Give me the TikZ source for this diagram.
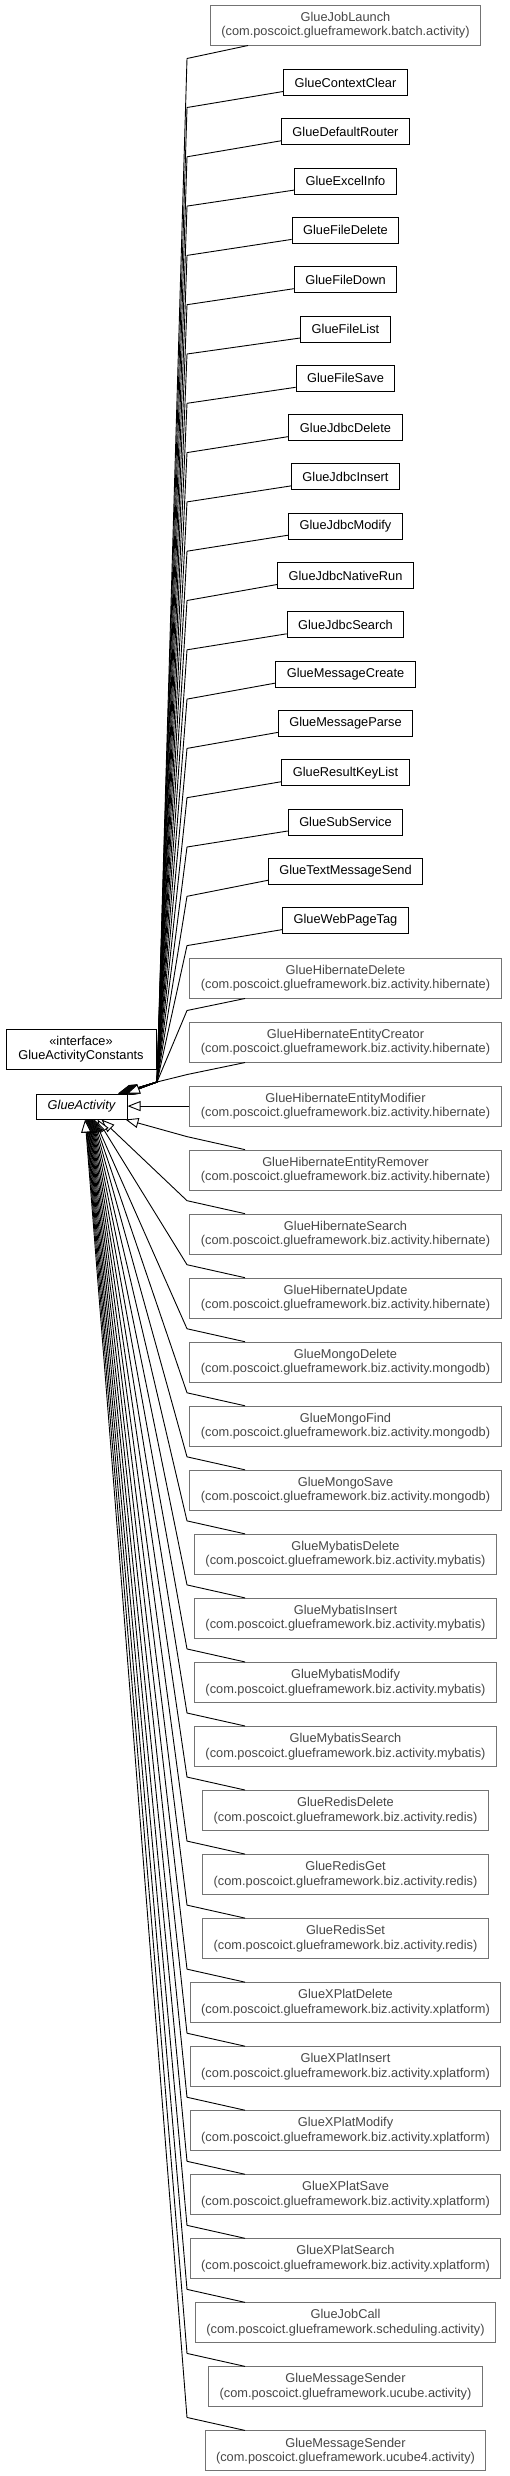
\documentclass[tikz,border=0pt]{standalone}
\usepackage{fontspec}
\setmainfont{Liberation Sans}
\usetikzlibrary{arrows.meta,calc}
\begin{document}
\begin{tikzpicture}[x=1pt,y=-1pt,
  cls/.style={draw=black, line width=1pt, font=\fontsize{12.8}{14.5}\selectfont, inner xsep=11pt, inner ysep=0pt, minimum height=26pt, fill=white},
  ext/.style={cls, draw=black!55, text=black!72, align=center, minimum height=40pt},
  gen/.style={line width=0.9pt, line join=round, -{Triangle[length=13pt,width=10pt,fill=white]}}]
\useasboundingbox (0,0) rectangle (509,2476);
\coordinate (lx) at (245,0);
\coordinate (bx) at (187,0);
\coordinate (conv) at (157,1082);

% base classes
\node[cls, minimum width=150pt, minimum height=40pt, align=center] (gac) at (81,1049) {«interface»\\GlueActivityConstants};
\node[cls, minimum width=91pt, minimum height=25pt, font=\fontsize{12.8}{14.5}\selectfont\itshape] (ga) at (81.5,1106.5) {GlueActivity};

% top external class
\node[ext] (jl) at (345.5,25) {GlueJobLaunch\\(com.poscoict.glueframework.batch.activity)};

% simple classes
\foreach \n [count=\k from 0] in {ContextClear,DefaultRouter,ExcelInfo,FileDelete,FileDown,FileList,FileSave,JdbcDelete,JdbcInsert,JdbcModify,JdbcNativeRun,JdbcSearch,MessageCreate,MessageParse,ResultKeyList,SubService,TextMessageSend,WebPageTag}{
  \node[cls] (s\k) at (345.5,{82.5+49.3*\k}) {Glue\n};
}

% two-line classes
\foreach \n/\p [count=\i from 0] in {
  GlueHibernateDelete/biz.activity.hibernate,
  GlueHibernateEntityCreator/biz.activity.hibernate,
  GlueHibernateEntityModifier/biz.activity.hibernate,
  GlueHibernateEntityRemover/biz.activity.hibernate,
  GlueHibernateSearch/biz.activity.hibernate,
  GlueHibernateUpdate/biz.activity.hibernate,
  GlueMongoDelete/biz.activity.mongodb,
  GlueMongoFind/biz.activity.mongodb,
  GlueMongoSave/biz.activity.mongodb,
  GlueMybatisDelete/biz.activity.mybatis,
  GlueMybatisInsert/biz.activity.mybatis,
  GlueMybatisModify/biz.activity.mybatis,
  GlueMybatisSearch/biz.activity.mybatis,
  GlueRedisDelete/biz.activity.redis,
  GlueRedisGet/biz.activity.redis,
  GlueRedisSet/biz.activity.redis,
  GlueXPlatDelete/biz.activity.xplatform,
  GlueXPlatInsert/biz.activity.xplatform,
  GlueXPlatModify/biz.activity.xplatform,
  GlueXPlatSave/biz.activity.xplatform,
  GlueXPlatSearch/biz.activity.xplatform,
  GlueJobCall/scheduling.activity,
  GlueMessageSender/ucube.activity,
  GlueMessageSender/ucube4.activity}{
  \node[ext] (t\i) at (345.5,{978+64.04*\i}) {\n\\(com.poscoict.glueframework.\p)};
}

% upper generalizations
\draw[gen] ($(lx |- jl.south)+(3,0)$) -- ($(bx |- jl.south)+(0,13)$) -- (conv) -- ($(ga.north east)+(-9.5,0)$);
\foreach \k in {0,...,17}{
  \pgfmathsetmacro\ex{-9.5+0.45*(\k+1)}
  \draw[gen] ($(s\k.west)+(0,9)$) -- ($(bx |- s\k.west)+(0,25)$) -- (conv) -- ($(ga.north east)+(\ex,0)$);
}
\foreach \i in {0,1}{
  \pgfmathsetmacro\ex{-1.0+0.45*\i}
  \draw[gen] (lx |- t\i.south) -- ($(bx |- t\i.south)+(0,12)$) -- (conv) -- ($(ga.north east)+(\ex,0)$);
}
% horizontal
\draw[gen] (t2.west) -- (t2.west -| ga.east);
% lower generalizations
\draw[gen] (lx |- t3.north) -- ($(bx |- t3.north)+(0,-13)$) -- ($(ga.south east)+(-2,0)$);
\draw[gen] (lx |- t4.north) -- ($(bx |- t4.north)+(0,-13)$) -- ($(ga.south west)+(66,0)$);
\draw[gen] (lx |- t5.north) -- ($(bx |- t5.north)+(0,-13)$) -- ($(ga.south west)+(62,0)$);
\foreach \i in {6,...,23}{
  \pgfmathsetmacro\ex{59-0.55*(\i-6)}
  \draw[gen] (lx |- t\i.north) -- ($(bx |- t\i.north)+(0,-13)$) -- ($(ga.south west)+(\ex,0)$);
}
\end{tikzpicture}
\end{document}
